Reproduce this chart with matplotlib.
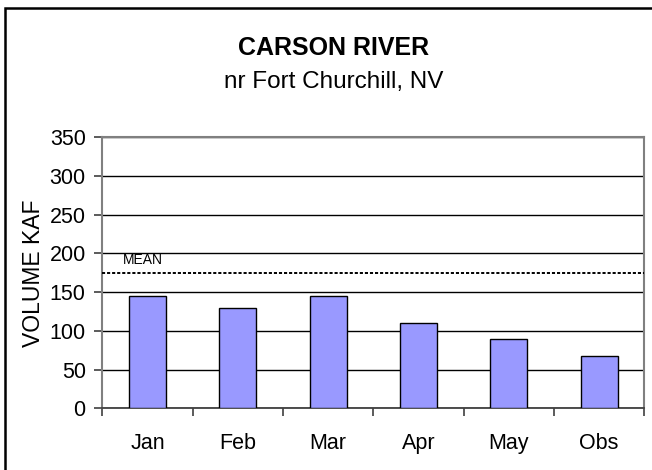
import numpy as np
import matplotlib.pyplot as plt

plt.rcParams['font.family'] = ['Liberation Sans', 'DejaVu Sans']

months = ['Jan', 'Feb', 'Mar', 'Apr', 'May', 'Obs']
volume = [145, 130, 145, 110, 90, 68]
mean_volume = 175

fig = plt.figure(figsize=(6.52, 4.70), dpi=100)
ax = fig.add_axes([0.157, 0.131, 0.831, 0.577])

x = np.arange(len(months))
ax.bar(x, volume, width=0.41, color='#9999FF', edgecolor='black', linewidth=1.0, zorder=3)
ax.axhline(mean_volume, color='black', linestyle=(0, (1.6, 1.0)), linewidth=1.4, zorder=4)
ax.text(-0.27, 187, 'MEAN', fontsize=10, va='baseline', ha='left')

ax.set_xlim(-0.5, len(months) - 0.5)
ax.set_ylim(0, 350)
ax.set_yticks(range(0, 351, 50))
ax.set_xticks(x)
ax.set_xticklabels(months)
ax.set_xticks(np.arange(-0.5, len(months)), minor=True)
ax.tick_params(axis='x', which='major', length=0, pad=18, labelsize=15.5)
ax.tick_params(axis='x', which='minor', length=6, width=1.2, direction='out', color='#404040')
ax.tick_params(axis='y', length=6, width=1.2, direction='out', color='#404040', labelsize=15.5, pad=6)
ax.grid(axis='y', color='black', linewidth=1.0, zorder=0)
ax.set_axisbelow(True)

for s in ['top', 'right', 'left']:
    ax.spines[s].set_color('#808080')
    ax.spines[s].set_linewidth(1.5)
ax.spines['bottom'].set_color('#404040')
ax.spines['bottom'].set_linewidth(1.3)

ax.set_ylabel('VOLUME KAF', fontsize=16.5, labelpad=3)

fig.text(0.512, 0.883, 'CARSON RIVER', ha='center', va='baseline', fontsize=18, fontweight='bold')
fig.text(0.512, 0.813, 'nr Fort Churchill, NV', ha='center', va='baseline', fontsize=17.5)

fig.patches.append(plt.Rectangle((5 / 652, -0.05), 1.1, 1 - 8 / 470 + 0.05, transform=fig.transFigure,
                                 fill=False, edgecolor='black', linewidth=1.8))

fig.savefig('out.png', dpi=100)
